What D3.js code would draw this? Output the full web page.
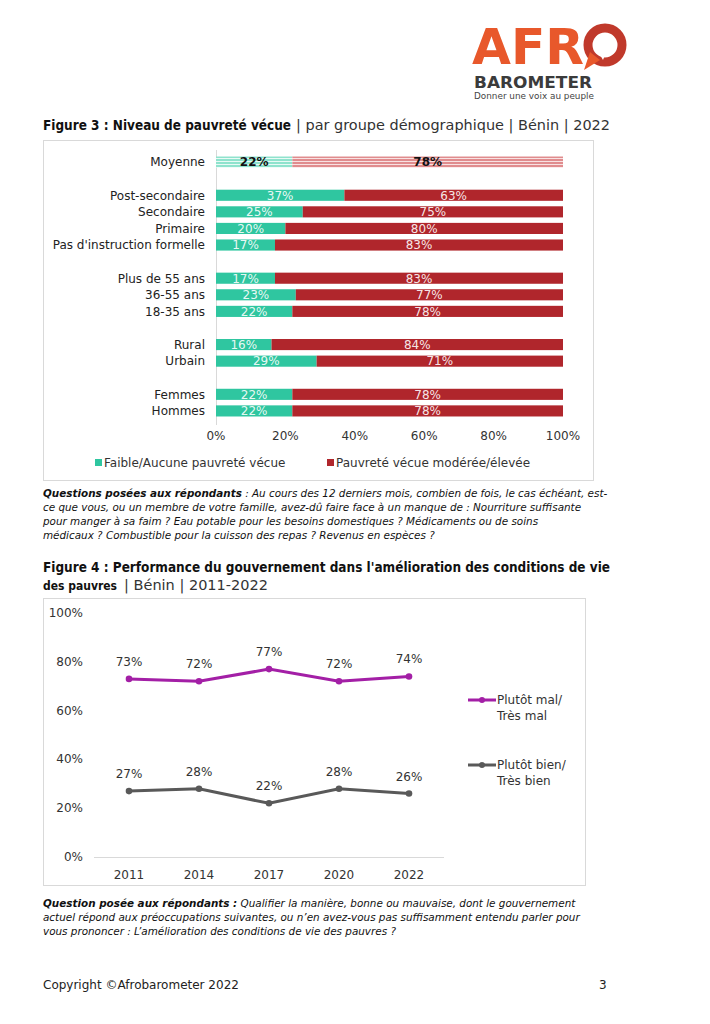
<!DOCTYPE html>
<html><head><meta charset="utf-8">
<script src="https://cdn.jsdelivr.net/npm/d3@7"></script>
<style>
html,body{margin:0;padding:0;background:#fff;}
svg{display:block;font-family:"DejaVu Sans",sans-serif;}
</style></head>
<body>
<svg id="page" width="710" height="1024"></svg>
<script>
// ---------- DATA ----------
const groups = [
  ["Moyenne"],
  ["Post-secondaire","Secondaire","Primaire","Pas d'instruction formelle"],
  ["Plus de 55 ans","36-55 ans","18-35 ans"],
  ["Rural","Urbain"],
  ["Femmes","Hommes"]
];
const categories = groups.flat();
const lowPoverty  = [22,37,25,20,17,17,23,22,16,29,22,22];
const highPoverty = [78,63,75,80,83,83,77,78,84,71,78,78];
const barTicks = [0,20,40,60,80,100];
const barSeries = ["Faible/Aucune pauvreté vécue","Pauvreté vécue modérée/élevée"];

const years = ["2011","2014","2017","2020","2022"];
const malValues  = [73,72,77,72,74];
const bienValues = [27,28,22,28,26];
const lineTicks = [0,20,40,60,80,100];
const lineSeries = [["Plutôt mal/","Très mal"],["Plutôt bien/","Très bien"]];

// ---------- SETUP ----------
const svg = d3.select("#page");
const TEAL = "#2fc6a0", RED = "#b0262c", PURPLE = "#a31fa6", GREY = "#595959";
const TXT = "#222";

// ---------- LOGO ----------
const logo = svg.append("g");
logo.append("text").attr("x",472).attr("y",64).attr("font-size",50).attr("font-weight","bold")
  .attr("fill","#e8582b").attr("textLength",112).attr("lengthAdjust","spacingAndGlyphs").text("AFR");
logo.append("circle").attr("cx",605).attr("cy",45).attr("r",17).attr("fill","none").attr("stroke","#c0392b").attr("stroke-width",9);
logo.append("path").attr("d","M590,52 L584,70 L600,60 Z").attr("fill","#e8582b");
logo.append("path").attr("d","M597,36 q8,-4 14,2 q3,6 -2,10 q-4,6 -6,12 q-4,-6 -6,-12 q-3,-6 0,-12Z").attr("fill","#fff");
logo.append("text").attr("x",474).attr("y",88).attr("font-size",15).attr("font-weight","bold")
  .attr("fill","#3b3b3b").attr("textLength",118).attr("lengthAdjust","spacingAndGlyphs").text("BAROMETER");
logo.append("text").attr("x",474).attr("y",99).attr("font-size",8).attr("fill","#444")
  .attr("textLength",120).attr("lengthAdjust","spacingAndGlyphs").text("Donner une voix au peuple");

// ---------- FIGURE 3 TITLE ----------
svg.append("text").attr("x",43).attr("y",130).attr("font-size",13.5).attr("fill","#111")
  .attr("font-weight","bold").attr("textLength",248).attr("lengthAdjust","spacingAndGlyphs")
  .text("Figure 3 : Niveau de pauvreté vécue");
svg.append("text").attr("x",296).attr("y",130).attr("font-size",13.5).attr("fill","#333")
  .attr("textLength",314).attr("lengthAdjust","spacingAndGlyphs")
  .text("| par groupe démographique | Bénin | 2022");

// frame
svg.append("rect").attr("x",43.5).attr("y",140.5).attr("width",550).attr("height",340)
  .attr("fill","none").attr("stroke","#d9d9d9");

// patterns for Moyenne
const defs = svg.append("defs");
function stripe(id, base, line){
  const p = defs.append("pattern").attr("id",id).attr("patternUnits","userSpaceOnUse")
    .attr("width",8).attr("height",3);
  p.append("rect").attr("width",8).attr("height",3).attr("fill",base);
  p.append("rect").attr("y",2).attr("width",8).attr("height",1).attr("fill",line);
}
stripe("pTeal","#8fe3cd","#e8faf5");
stripe("pRed","#e08c8e","#f8e2e2");

// band domain with spacer slots between groups
const slots = [];
groups.forEach((g,i)=>{ if(i>0) slots.push("__gap"+i); g.forEach(c=>slots.push(c)); });

const xB = d3.scaleLinear().domain([0,100]).range([216,563]);
const yB = d3.scaleBand().domain(slots).range([153.7,419.3]).paddingInner(0.33).paddingOuter(0.17);

// axis line
svg.append("line").attr("x1",216.5).attr("x2",216.5).attr("y1",150).attr("y2",425).attr("stroke","#d9d9d9");

const gBars = svg.append("g");
categories.forEach((c,i)=>{
  const y = yB(c), h = yB.bandwidth();
  const isAvg = c === "Moyenne";
  const lo = lowPoverty[i], hi = highPoverty[i];
  gBars.append("rect").attr("x",xB(0)).attr("y",y).attr("width",xB(lo)-xB(0)).attr("height",h)
    .attr("fill", isAvg ? "url(#pTeal)" : TEAL);
  gBars.append("rect").attr("x",xB(lo)).attr("y",y).attr("width",xB(lo+hi)-xB(lo)).attr("height",h)
    .attr("fill", isAvg ? "url(#pRed)" : RED);
  const cy = y + h/2 + 4.3;
  [[lo/2, lo],[lo+hi/2, hi]].forEach(([pos,v])=>{
    gBars.append("text").attr("x",xB(pos)).attr("y",cy).attr("text-anchor","middle")
      .attr("font-size",12).attr("font-weight", isAvg ? "bold" : "normal")
      .attr("fill", isAvg ? "#111" : "#fff").attr("fill-opacity", isAvg?1:0.9).text(v+"%");
  });
  gBars.append("text").attr("x",205).attr("y",cy).attr("text-anchor","end")
    .attr("font-size",12).attr("fill",TXT).text(c);
});

// x tick labels
barTicks.forEach(t=>{
  svg.append("text").attr("x",xB(t)).attr("y",440).attr("text-anchor","middle")
    .attr("font-size",12).attr("fill","#333").text(t+"%");
});

// legend
const legB = [[95,barSeries[0],TEAL],[327,barSeries[1],RED]];
legB.forEach(([x,label,col])=>{
  svg.append("rect").attr("x",x).attr("y",459).attr("width",7).attr("height",7).attr("fill",col);
  svg.append("text").attr("x",x+9).attr("y",467).attr("font-size",12).attr("fill","#333").text(label);
});

// question text fig3
const q3 = [
  ["Questions posées aux répondants", " : Au cours des 12 derniers mois, combien de fois, le cas échéant, est-"],
  ["", "ce que vous, ou un membre de votre famille, avez-dû faire face à un manque de : Nourriture suffisante"],
  ["", "pour manger à sa faim ? Eau potable pour les besoins domestiques ? Médicaments ou de soins"],
  ["", "médicaux ? Combustible pour la cuisson des repas ? Revenus en espèces ?"]
];
q3.forEach((l,i)=>{
  const t = svg.append("text").attr("x",43).attr("y",497+i*14).attr("font-size",10.4)
    .attr("font-style","italic").attr("fill","#111");
  if(l[0]) t.append("tspan").attr("font-weight","bold").text(l[0]);
  t.append("tspan").text(l[1]);
});

// ---------- FIGURE 4 ----------
svg.append("text").attr("x",43).attr("y",572).attr("font-size",13.5).attr("fill","#111")
  .attr("font-weight","bold").attr("textLength",567).attr("lengthAdjust","spacingAndGlyphs")
  .text("Figure 4 : Performance du gouvernement dans l'amélioration des conditions de vie");
svg.append("text").attr("x",43).attr("y",590).attr("font-size",12).attr("fill","#111")
  .attr("font-weight","bold").attr("textLength",74).attr("lengthAdjust","spacingAndGlyphs").text("des pauvres");
svg.append("text").attr("x",124).attr("y",590).attr("font-size",13.5).attr("fill","#333")
  .attr("textLength",144).attr("lengthAdjust","spacingAndGlyphs").text("| Bénin | 2011-2022");

svg.append("rect").attr("x",43.5).attr("y",598.5).attr("width",542).attr("height",287)
  .attr("fill","none").attr("stroke","#d9d9d9");

const xL = d3.scalePoint().domain(years).range([94,444]).padding(0.5);
const yL = d3.scaleLinear().domain([0,100]).range([857,613]);

svg.append("line").attr("x1",94).attr("x2",444).attr("y1",857.5).attr("y2",857.5).attr("stroke","#d9d9d9");
lineTicks.forEach(t=>{
  svg.append("text").attr("x",83).attr("y",yL(t)+4).attr("text-anchor","end")
    .attr("font-size",12).attr("fill","#333").text(t+"%");
});
years.forEach(yv=>{
  svg.append("text").attr("x",xL(yv)).attr("y",879).attr("text-anchor","middle")
    .attr("font-size",12).attr("fill","#333").text(yv);
});

const line = d3.line().x((d,i)=>xL(years[i])).y(d=>yL(d));
[[malValues,PURPLE],[bienValues,GREY]].forEach(([vals,col])=>{
  svg.append("path").datum(vals).attr("d",line).attr("fill","none").attr("stroke",col).attr("stroke-width",3);
  vals.forEach((v,i)=>{
    svg.append("circle").attr("cx",xL(years[i])).attr("cy",yL(v)).attr("r",3.3).attr("fill",col);
    svg.append("text").attr("x",xL(years[i])).attr("y",yL(v)-13).attr("text-anchor","middle")
      .attr("font-size",12).attr("fill","#333").text(v+"%");
  });
});

// legend fig4
[[PURPLE,lineSeries[0],700],[GREY,lineSeries[1],765]].forEach(([col,lbl,y])=>{
  svg.append("line").attr("x1",468).attr("x2",496).attr("y1",y).attr("y2",y).attr("stroke",col).attr("stroke-width",3);
  svg.append("circle").attr("cx",482).attr("cy",y).attr("r",3).attr("fill",col);
  lbl.forEach((s,k)=>{
    svg.append("text").attr("x",497).attr("y",y+4+k*16).attr("font-size",12).attr("fill","#333").text(s);
  });
});

// question text fig4
const q4 = [
  ["Question posée aux répondants :", " Qualifier la manière, bonne ou mauvaise, dont le gouvernement"],
  ["", "actuel répond aux préoccupations suivantes, ou n’en avez-vous pas suffisamment entendu parler pour"],
  ["", "vous prononcer : L’amélioration des conditions de vie des pauvres ?"]
];
q4.forEach((l,i)=>{
  const t = svg.append("text").attr("x",43).attr("y",907+i*14).attr("font-size",10.4)
    .attr("font-style","italic").attr("fill","#111");
  if(l[0]) t.append("tspan").attr("font-weight","bold").text(l[0]);
  t.append("tspan").text(l[1]);
});

// footer
svg.append("text").attr("x",43).attr("y",989).attr("font-size",12).attr("fill","#222").text("Copyright ©Afrobarometer 2022");
svg.append("text").attr("x",599).attr("y",989).attr("font-size",12).attr("fill","#222").text("3");
</script>
</body></html>
